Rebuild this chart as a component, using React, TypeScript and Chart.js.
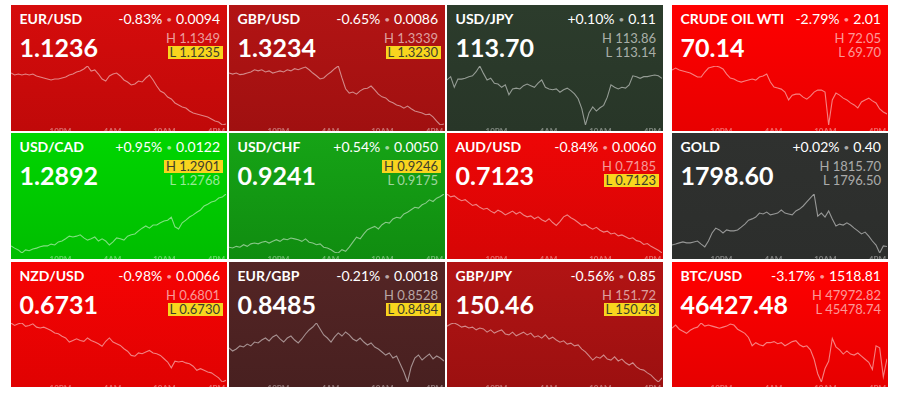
import React, { useEffect, useRef } from "react";
import { Chart, registerables } from "chart.js";

Chart.register(...registerables);

// ---- data ----
const sessionHours = 24.8;
const timeTicks = [5.7, 11.7, 17.7, 23.7];
const timeTickLabels = ["10PM", "4AM", "10AM", "4PM"];

const symbols = ["EUR/USD", "GBP/USD", "USD/JPY", "CRUDE OIL WTI", "USD/CAD", "USD/CHF", "AUD/USD", "GOLD", "NZD/USD", "EUR/GBP", "GBP/JPY", "BTC/USD"];
const lastPrices = ["1.1236", "1.3234", "113.70", "70.14", "1.2892", "0.9241", "0.7123", "1798.60", "0.6731", "0.8485", "150.46", "46427.48"];
const changePct = ["-0.83%", "-0.65%", "+0.10%", "-2.79%", "+0.95%", "+0.54%", "-0.84%", "+0.02%", "-0.98%", "-0.21%", "-0.56%", "-3.17%"];
const changeAbs = ["0.0094", "0.0086", "0.11", "2.01", "0.0122", "0.0050", "0.0060", "0.40", "0.0066", "0.0018", "0.85", "1518.81"];
const highs = ["1.1349", "1.3339", "113.86", "72.05", "1.2901", "0.9246", "0.7185", "1815.70", "0.6801", "0.8528", "151.72", "47972.82"];
const lows = ["1.1235", "1.3230", "113.14", "69.70", "1.2768", "0.9175", "0.7123", "1796.50", "0.6730", "0.8484", "150.43", "45478.74"];
const highlighted = ["L", "L", "", "", "H", "H", "L", "", "L", "L", "L", ""];
const tileColors = [
  ["#d60c0c", "#c00909"],
  ["#b21414", "#a01010"],
  ["#2c3c2c", "#283628"],
  ["#ff0000", "#e80000"],
  ["#00d600", "#00bd00"],
  ["#16a416", "#108c10"],
  ["#ee0606", "#d60505"],
  ["#2f312f", "#2c2e2c"],
  ["#f60303", "#e00202"],
  ["#542525", "#482020"],
  ["#b21414", "#9c1010"],
  ["#ff0000", "#e60000"],
];

const eurUsd = [1.13354,1.13315,1.13334,1.13315,1.13334,1.13315,1.13334,1.13296,1.13276,1.13257,
  1.13238,1.13219,1.13238,1.13238,1.13257,1.13276,1.13315,1.13334,1.13373,1.13392,
  1.13431,1.13489,1.13392,1.13412,1.13334,1.13238,1.13199,1.13296,1.13334,1.13354,
  1.13296,1.13219,1.13180,1.13122,1.13141,1.13199,1.13180,1.13257,1.13315,1.13219,
  1.13103,1.13006,1.12968,1.12890,1.12852,1.12775,1.12736,1.12697,1.12678,1.12620,
  1.12582,1.12562,1.12543,1.12524,1.12504,1.12466,1.12427,1.12408,1.12350,1.12369];
const gbpUsd = [1.3326,1.3324,1.3326,1.3323,1.3324,1.3326,1.3328,1.3332,1.3330,1.3332,
  1.3328,1.3330,1.3326,1.3328,1.3330,1.3328,1.3332,1.3330,1.3334,1.3332,
  1.3335,1.3337,1.3332,1.3326,1.3321,1.3315,1.3317,1.3323,1.3328,1.3334,
  1.3339,1.3317,1.3297,1.3289,1.3291,1.3287,1.3293,1.3297,1.3298,1.3302,
  1.3295,1.3287,1.3282,1.3280,1.3274,1.3271,1.3267,1.3265,1.3261,1.3265,
  1.3260,1.3256,1.3254,1.3252,1.3249,1.3250,1.3245,1.3237,1.3230,1.3232];
const usdJpy = [113.69,113.73,113.60,113.70,113.70,113.71,113.73,113.74,113.79,113.86,
  113.77,113.69,113.71,113.65,113.64,113.60,113.63,113.51,113.58,113.59,
  113.58,113.62,113.64,113.62,113.60,113.65,113.69,113.60,113.58,113.57,
  113.58,113.54,113.57,113.59,113.56,113.52,113.46,113.34,113.14,113.29,
  113.36,113.31,113.35,113.38,113.48,113.63,113.60,113.58,113.60,113.59,
  113.63,113.74,113.73,113.71,113.73,113.73,113.74,113.75,113.74,113.71];
const crudeOil = [71.89,71.97,71.89,71.85,71.81,71.77,71.69,71.61,71.61,71.81,
  71.97,72.01,72.05,72.01,71.93,71.73,71.57,71.53,71.45,71.41,
  71.45,71.49,71.53,71.49,71.61,71.65,71.73,71.41,71.21,71.17,
  71.13,71.01,70.70,70.89,70.93,70.93,70.81,70.73,70.85,71.01,
  71.09,71.09,71.01,69.70,70.70,70.97,70.89,70.77,70.70,70.58,
  70.50,70.38,70.62,70.70,70.77,70.66,70.58,70.34,70.22,70.14];
const usdCad = [1.2784,1.2779,1.2775,1.2768,1.2775,1.2773,1.2777,1.2779,1.2782,1.2784,
  1.2784,1.2788,1.2786,1.2793,1.2795,1.2800,1.2806,1.2804,1.2806,1.2809,
  1.2802,1.2797,1.2800,1.2804,1.2795,1.2800,1.2795,1.2786,1.2793,1.2802,
  1.2800,1.2797,1.2806,1.2809,1.2811,1.2818,1.2824,1.2829,1.2824,1.2831,
  1.2831,1.2836,1.2840,1.2842,1.2849,1.2827,1.2822,1.2836,1.2842,1.2849,
  1.2854,1.2860,1.2865,1.2874,1.2878,1.2883,1.2885,1.2892,1.2894,1.2901];
const usdChf = [0.9182,0.9181,0.9183,0.9182,0.9185,0.9183,0.9186,0.9187,0.9186,0.9188,
  0.9189,0.9187,0.9189,0.9191,0.9189,0.9192,0.9191,0.9193,0.9192,0.9191,
  0.9189,0.9192,0.9188,0.9187,0.9185,0.9186,0.9182,0.9181,0.9179,0.9176,
  0.9175,0.9179,0.9177,0.9182,0.9188,0.9194,0.9192,0.9198,0.9203,0.9205,
  0.9207,0.9204,0.9209,0.9212,0.9211,0.9216,0.9218,0.9217,0.9222,0.9224,
  0.9227,0.9230,0.9229,0.9233,0.9235,0.9239,0.9237,0.9241,0.9243,0.9246];
const audUsd = [0.7185,0.7182,0.7183,0.7180,0.7178,0.7179,0.7176,0.7173,0.7174,0.7171,
  0.7169,0.7170,0.7167,0.7165,0.7168,0.7166,0.7163,0.7165,0.7167,0.7164,
  0.7166,0.7163,0.7161,0.7162,0.7159,0.7161,0.7158,0.7156,0.7159,0.7155,
  0.7152,0.7156,0.7161,0.7163,0.7160,0.7158,0.7155,0.7152,0.7153,0.7150,
  0.7148,0.7150,0.7147,0.7145,0.7146,0.7143,0.7144,0.7141,0.7142,0.7140,
  0.7138,0.7139,0.7136,0.7135,0.7132,0.7133,0.7130,0.7128,0.7126,0.7123];
const gold = [1799.10,1799.40,1799.80,1800.10,1799.80,1799.80,1800.10,1800.40,1799.40,1798.50,
  1800.40,1803.00,1804.60,1804.00,1803.00,1804.00,1803.70,1803.70,1804.00,1804.90,
  1805.90,1807.20,1807.60,1808.20,1809.50,1809.20,1809.80,1808.90,1809.20,1809.50,
  1810.50,1809.50,1809.20,1808.90,1810.20,1810.80,1811.80,1813.10,1814.40,1815.70,
  1808.50,1809.50,1808.20,1810.20,1807.60,1805.30,1805.90,1805.60,1806.30,1805.60,
  1804.60,1803.70,1802.70,1803.30,1802.00,1800.40,1799.10,1796.50,1798.80,1798.60];
const nzdUsd = [0.6801,0.6798,0.6800,0.6801,0.6797,0.6798,0.6800,0.6796,0.6795,0.6796,
  0.6794,0.6792,0.6789,0.6788,0.6785,0.6783,0.6778,0.6780,0.6782,0.6780,
  0.6779,0.6783,0.6780,0.6778,0.6776,0.6773,0.6779,0.6783,0.6778,0.6776,
  0.6774,0.6770,0.6767,0.6762,0.6761,0.6765,0.6764,0.6766,0.6768,0.6765,
  0.6764,0.6762,0.6758,0.6754,0.6747,0.6755,0.6754,0.6755,0.6753,0.6752,
  0.6749,0.6744,0.6746,0.6744,0.6742,0.6741,0.6738,0.6735,0.6730,0.6732];
const eurGbp = [0.85094,0.85071,0.85086,0.85109,0.85101,0.85123,0.85109,0.85138,0.85131,0.85153,
  0.85168,0.85146,0.85176,0.85191,0.85161,0.85138,0.85168,0.85183,0.85153,0.85131,
  0.85161,0.85198,0.85228,0.85250,0.85280,0.85235,0.85191,0.85168,0.85138,0.85176,
  0.85206,0.85183,0.85213,0.85191,0.85161,0.85146,0.85168,0.85138,0.85116,0.85131,
  0.85101,0.85086,0.85064,0.85041,0.85056,0.85019,0.85034,0.84974,0.84915,0.84840,
  0.84952,0.85019,0.85041,0.85004,0.85027,0.85049,0.85012,0.85034,0.85019,0.84997];
const gbpJpy = [151.65,151.70,151.72,151.68,151.63,151.65,151.61,151.63,151.57,151.61,
  151.59,151.52,151.57,151.50,151.54,151.57,151.48,151.46,151.52,151.44,
  151.48,151.52,151.46,151.50,151.41,151.44,151.39,151.46,151.37,151.41,
  151.35,151.30,151.33,151.26,151.28,151.22,151.24,151.15,151.09,151.00,
  150.91,150.98,150.95,151.02,150.93,150.91,150.98,150.89,150.93,150.85,
  150.80,150.85,150.76,150.71,150.69,150.63,150.58,150.50,150.43,150.52];
const btcUsd = [47676.78,47803.59,47634.51,47549.97,47465.43,47592.24,47676.78,47719.05,47888.13,47761.32,
  47803.59,47761.32,47719.05,47676.78,47719.05,47761.32,47845.86,47803.59,47634.51,47549.97,
  47465.43,47296.35,46958.19,47085.00,47000.46,46958.19,47085.00,47085.00,47127.27,47042.73,
  47085.00,46958.19,47042.73,47127.27,47169.54,47000.46,46915.92,46958.19,46789.11,46408.68,
  45816.90,45478.74,46028.25,46324.14,47254.08,46915.92,46789.11,46620.03,46746.84,46620.03,
  46577.76,46662.30,46535.49,46408.68,46281.87,45985.98,46958.19,46873.65,45690.09,46427.48];

const seriesList = [eurUsd, gbpUsd, usdJpy, crudeOil, usdCad, usdChf, audUsd, gold, nzdUsd, eurGbp, gbpJpy, btcUsd];

// ---- layout ----
const colLefts = [11, 229, 447, 672];
const rowTops = [5, 133, 262];
const rowHeights = [126, 126, 125];
const tileW = 216;
const FONT = "Lato, 'Open Sans', sans-serif";

function Spark({ values }: { values: number[] }) {
  const ref = useRef<HTMLCanvasElement | null>(null);
  useEffect(() => {
    if (!ref.current) return;
    const n = values.length;
    const pts = values.map((v, i) => ({ x: (i * sessionHours) / (n - 1), y: v }));
    const chart = new Chart(ref.current, {
      type: "line",
      data: {
        datasets: [
          {
            data: pts,
            borderColor: "rgba(255,255,255,0.5)",
            borderWidth: 1.1,
            pointRadius: 0,
            tension: 0,
            fill: false,
          },
        ],
      },
      options: {
        animation: false,
        responsive: false,
        maintainAspectRatio: false,
        events: [],
        layout: { padding: { top: 3, left: 0, right: 0, bottom: 0 } },
        plugins: { legend: { display: false }, tooltip: { enabled: false } },
        scales: {
          x: {
            type: "linear",
            min: 0,
            max: sessionHours,
            grid: { display: false, drawTicks: false },
            border: { display: false },
            afterBuildTicks: (s: any) => {
              s.ticks = timeTicks.map((v) => ({ value: v }));
            },
            afterFit: (s: any) => {
              s.height = 6;
            },
            ticks: {
              autoSkip: false,
              maxRotation: 0,
              minRotation: 0,
              padding: 2,
              color: "rgba(255,255,255,0.4)",
              font: { size: 8, family: FONT, weight: "bold" },
              callback: (_v: any, i: number) => timeTickLabels[i],
            },
          },
          y: {
            display: false,
            min: Math.min(...values),
            max: Math.max(...values),
          },
        },
      },
    } as any);
    return () => chart.destroy();
  }, [values]);
  return (
    <canvas
      ref={ref}
      width={tileW}
      height={68}
      style={{ position: "absolute", left: 0, top: 58, width: tileW, height: 68, display: "block" }}
    />
  );
}

function Tile({ idx }: { idx: number }) {
  const col = idx % 4;
  const row = Math.floor(idx / 4);
  const [c1, c2] = tileColors[idx];
  const hl = highlighted[idx];
  const faded = "rgba(255,255,255,0.6)";
  const boxStyle: React.CSSProperties = {
    display: "inline-block",
    background: "#f8d51e",
    color: "#3d3d2d",
    padding: "0 3px 0 2px",
    marginRight: -3,
    lineHeight: "13px",
  };
  const hlLine = (label: string, val: string, on: boolean) =>
    on ? (
      <span style={boxStyle}>
        {label} {val}
      </span>
    ) : (
      <span>
        {label} {val}
      </span>
    );
  return (
    <div
      style={{
        position: "absolute",
        left: colLefts[col],
        top: rowTops[row],
        width: tileW,
        height: rowHeights[row],
        background: `linear-gradient(${c1}, ${c2})`,
        overflow: "hidden",
        fontFamily: FONT,
        color: "#fff",
      }}
    >
      <div style={{ position: "absolute", left: 8.5, top: 6.6, fontSize: 14, fontWeight: 700, lineHeight: "14px", whiteSpace: "nowrap" }}>
        {symbols[idx]}
      </div>
      <div style={{ position: "absolute", right: 7, top: 6.6, fontSize: 14, lineHeight: "14px", whiteSpace: "nowrap" }}>
        {changePct[idx]}
        <span style={{ color: faded, fontSize: 10, margin: "0 4px", position: "relative", top: -1 }}>•</span>
        {changeAbs[idx]}
      </div>
      <div style={{ position: "absolute", left: 8.5, top: 30, fontSize: 25, fontWeight: 700, lineHeight: "25px", whiteSpace: "nowrap" }}>
        {lastPrices[idx]}
      </div>
      <div style={{ position: "absolute", right: 7, top: 26.5, fontSize: 13, lineHeight: "13px", color: faded, whiteSpace: "nowrap" }}>
        {hlLine("H", highs[idx], hl === "H")}
      </div>
      <div style={{ position: "absolute", right: 7, top: 41.1, fontSize: 13, lineHeight: "13px", color: faded, whiteSpace: "nowrap" }}>
        {hlLine("L", lows[idx], hl === "L")}
      </div>
      <Spark values={seriesList[idx]} />
    </div>
  );
}

export default function App() {
  return (
    <div style={{ position: "absolute", left: 0, top: 0, width: 899, height: 394 }}>
      {symbols.map((_, i) => (
        <Tile key={i} idx={i} />
      ))}
    </div>
  );
}
